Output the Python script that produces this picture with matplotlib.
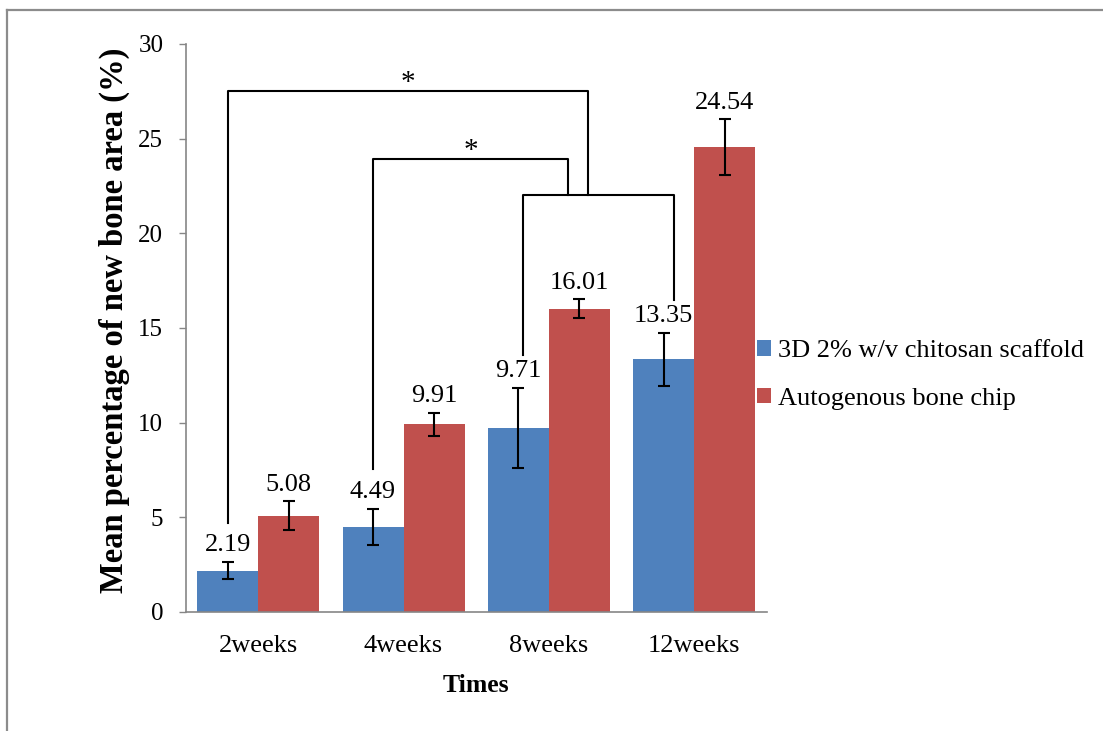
import numpy as np
import matplotlib
matplotlib.use("Agg")
import matplotlib.pyplot as plt
from matplotlib.patches import Patch
from matplotlib.lines import Line2D

# ---- data ----
categories = ["2weeks", "4weeks", "8weeks", "12weeks"]
series_names = ["3D 2% w/v chitosan scaffold", "Autogenous bone chip"]
scaffold = [2.19, 4.49, 9.71, 13.35]
bone_chip = [5.08, 9.91, 16.01, 24.54]
scaffold_err = [0.47, 0.97, 2.13, 1.41]
bone_chip_err = [0.77, 0.60, 0.50, 1.48]
yticks = [0, 5, 10, 15, 20, 25, 30]

plt.rcParams['font.family'] = ['Liberation Serif', 'DejaVu Serif']

W, H = 1103, 731
fig = plt.figure(figsize=(W / 100, H / 100), dpi=100)
fig.patch.set_facecolor("white")

# figure border (top + left)
fig.add_artist(Line2D([7 / W, 7 / W], [0, 1 - 10 / H], transform=fig.transFigure,
                      color="#8c8c8c", lw=1.6))
fig.add_artist(Line2D([7 / W, 1], [1 - 10 / H, 1 - 10 / H], transform=fig.transFigure,
                      color="#8c8c8c", lw=1.6))

ax = fig.add_axes([185.5 / W, 1 - 612 / H, (767 - 185.5) / W, (612 - 44) / H])

x = np.arange(len(categories))
w = 0.42
blue = "#4F81BD"
red = "#C0504D"
bx = x - w / 2
rx = x + w / 2

ax.bar(bx, scaffold, w, color=blue, edgecolor="none", zorder=2)
ax.bar(rx, bone_chip, w, color=red, edgecolor="none", zorder=2)
ax.errorbar(bx, scaffold, yerr=scaffold_err, fmt="none", ecolor="black",
            elinewidth=1.5, capsize=4.5, capthick=1.5, zorder=3)
ax.errorbar(rx, bone_chip, yerr=bone_chip_err, fmt="none", ecolor="black",
            elinewidth=1.5, capsize=4.5, capthick=1.5, zorder=3)

for xs, vals, errs in [(bx, scaffold, scaffold_err), (rx, bone_chip, bone_chip_err)]:
    for xi, v, e in zip(xs, vals, errs):
        ax.annotate(f"{v:.2f}", (xi, v + e), xytext=(0, 12), textcoords="offset points",
                    ha="center", va="center", fontsize=19, color="black")

ax.set_xlim(-0.5, len(categories) - 0.5)
ax.set_ylim(yticks[0], yticks[-1])
ax.set_yticks(yticks)
ax.set_xticks(x)
ax.set_xticklabels(categories)
ax.tick_params(axis="y", length=5, width=1, color="#868686", labelsize=18, pad=11)
ax.tick_params(axis="x", length=0, labelsize=19, pad=16.5)
for s in ["top", "right"]:
    ax.spines[s].set_visible(False)
for s in ["left", "bottom"]:
    ax.spines[s].set_color("#868686")
    ax.spines[s].set_linewidth(1.2)

ax.set_xlabel("Times", fontsize=18.5, fontweight="bold", labelpad=12)
ax.set_ylabel("Mean percentage of new bone area (%)", fontsize=23.5, fontweight="bold")
ax.yaxis.set_label_coords((130 - 185.5) / (767 - 185.5), (612 - 320) / (612 - 44))

# significance brackets
lw = 1.5
kw = dict(color="black", lw=lw, solid_capstyle="projecting", zorder=4, clip_on=False)
# lower bracket linking 8 and 12 weeks
lo_l, lo_r, lo_y = bx[2] + 0.035, bx[3] + 0.07, 22.0
ax.plot([lo_l, lo_l, lo_r, lo_r], [13.6, lo_y, lo_y, 16.5], **kw)
# outer bracket from 2 weeks
out_l, out_r, out_y = bx[0], 2.27, 27.5
ax.plot([out_l, out_l, out_r, out_r], [4.7, out_y, out_y, lo_y], **kw)
# inner bracket from 4 weeks
in_l, in_r, in_y = bx[1], 2.134, 23.9
ax.plot([in_l, in_l, in_r, in_r], [7.55, in_y, in_y, lo_y], **kw)
ax.text((out_l + out_r) / 2, out_y - 0.25, "*", ha="center", va="bottom", fontsize=21)
ax.text((in_l + in_r) / 2, in_y - 0.25, "*", ha="center", va="bottom", fontsize=21)

handles = [Patch(facecolor=blue, edgecolor="none"), Patch(facecolor=red, edgecolor="none")]
fig.legend(handles, series_names, loc="center left",
           bbox_to_anchor=(757 / W, 1 - 375 / H), frameon=False, fontsize=19,
           handlelength=0.52, handleheight=0.52, handletextpad=0.28,
           labelspacing=0.95, borderpad=0, borderaxespad=0)

fig.savefig("out.png", dpi=100)
